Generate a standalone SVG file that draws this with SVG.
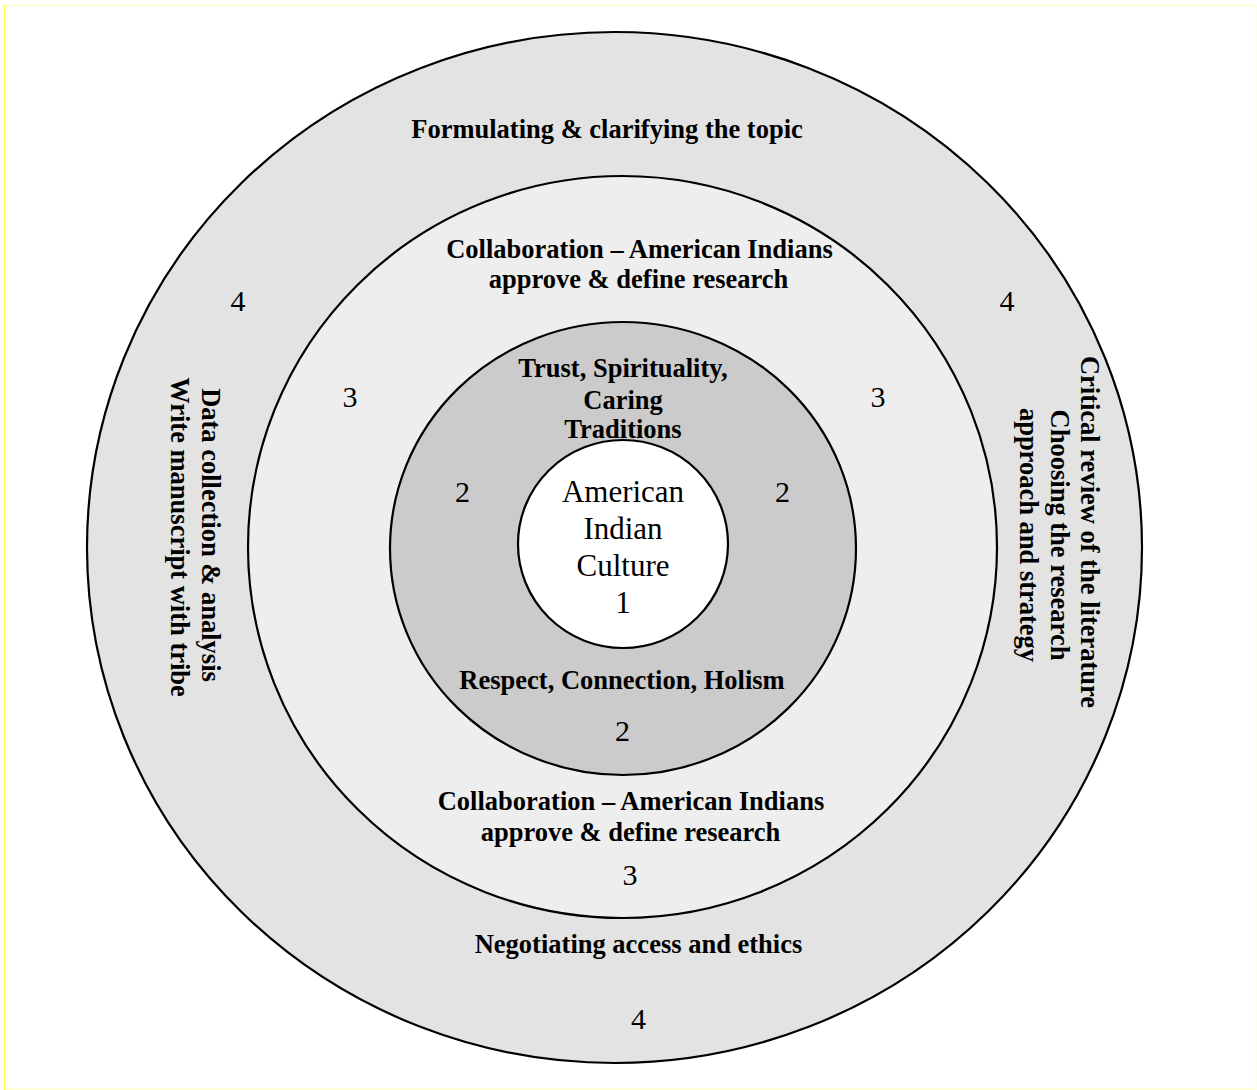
<svg xmlns="http://www.w3.org/2000/svg" width="1257" height="1090" viewBox="0 0 1257 1090">
<style>
.ring{stroke:#000;stroke-width:2.2}
.b{font-family:"Liberation Serif","Times New Roman",serif;font-weight:bold;font-size:26.5px;fill:#000;text-anchor:middle}
.n{font-family:"Liberation Serif","Times New Roman",serif;font-size:30px;fill:#000;text-anchor:middle}
</style>
<rect x="0" y="0" width="1257" height="1090" fill="#fff"/>
<g id="frame">
<line x1="4.5" y1="5.5" x2="1256" y2="5.5" stroke="#ffffb0" stroke-width="1"/>
<line x1="4.5" y1="1089" x2="1256" y2="1089" stroke="#ffffb0" stroke-width="1"/>
<line x1="1256" y1="5.5" x2="1256" y2="1089" stroke="#ffffd0" stroke-width="1"/>
<line x1="4.5" y1="5" x2="4.5" y2="1090" stroke="#ffff40" stroke-width="1"/>
</g>
<g id="ring4">
<ellipse class="ring" cx="614.5" cy="547.5" rx="527.5" ry="515.5" fill="#e3e3e3"/>
<text class="b" x="607" y="138">Formulating &amp; clarifying the topic</text>
<text class="b" x="638.5" y="953">Negotiating access and ethics</text>
<text class="b" transform="translate(202,535) rotate(90)" x="0" y="0">Data collection &amp; analysis</text>
<text class="b" transform="translate(171,537) rotate(90)" x="0" y="0">Write manuscript with tribe</text>
<text class="b" transform="translate(1081,532) rotate(90)" x="0" y="0">Critical review of the literature</text>
<text class="b" transform="translate(1051,535) rotate(90)" x="0" y="0">Choosing the research</text>
<text class="b" transform="translate(1020,535) rotate(90)" x="0" y="0">approach and strategy</text>
<text class="n" x="238" y="311">4</text>
<text class="n" x="1007" y="311">4</text>
<text class="n" x="638.5" y="1029">4</text>
</g>
<g id="ring3">
<ellipse class="ring" cx="622.5" cy="547" rx="374.5" ry="371" fill="#eeeeee"/>
<text class="b" x="639.5" y="258">Collaboration – American Indians</text>
<text class="b" x="638.5" y="288">approve &amp; define research</text>
<text class="b" x="631" y="810">Collaboration – American Indians</text>
<text class="b" x="630.5" y="841">approve &amp; define research</text>
<text class="n" x="350" y="407">3</text>
<text class="n" x="878" y="407">3</text>
<text class="n" x="630" y="885">3</text>
</g>
<g id="ring2">
<ellipse class="ring" cx="623" cy="548.5" rx="233" ry="226.5" fill="#cbcbcb"/>
<text class="b" x="623" y="377">Trust, Spirituality,</text>
<text class="b" x="623" y="409">Caring</text>
<text class="b" x="623" y="438">Traditions</text>
<text class="b" x="622" y="689">Respect, Connection, Holism</text>
<text class="n" x="462.5" y="502">2</text>
<text class="n" x="782.5" y="502">2</text>
<text class="n" x="622.5" y="741">2</text>
</g>
<g id="core">
<ellipse class="ring" cx="623" cy="544" rx="105" ry="104" fill="#ffffff"/>
<text class="n" x="623" y="502" style="font-size:31px">American</text>
<text class="n" x="623" y="539" style="font-size:31px">Indian</text>
<text class="n" x="623" y="576" style="font-size:31px">Culture</text>
<text class="n" x="623" y="613" style="font-size:31px">1</text>
</g>
<g id="connectors"/>
</svg>
